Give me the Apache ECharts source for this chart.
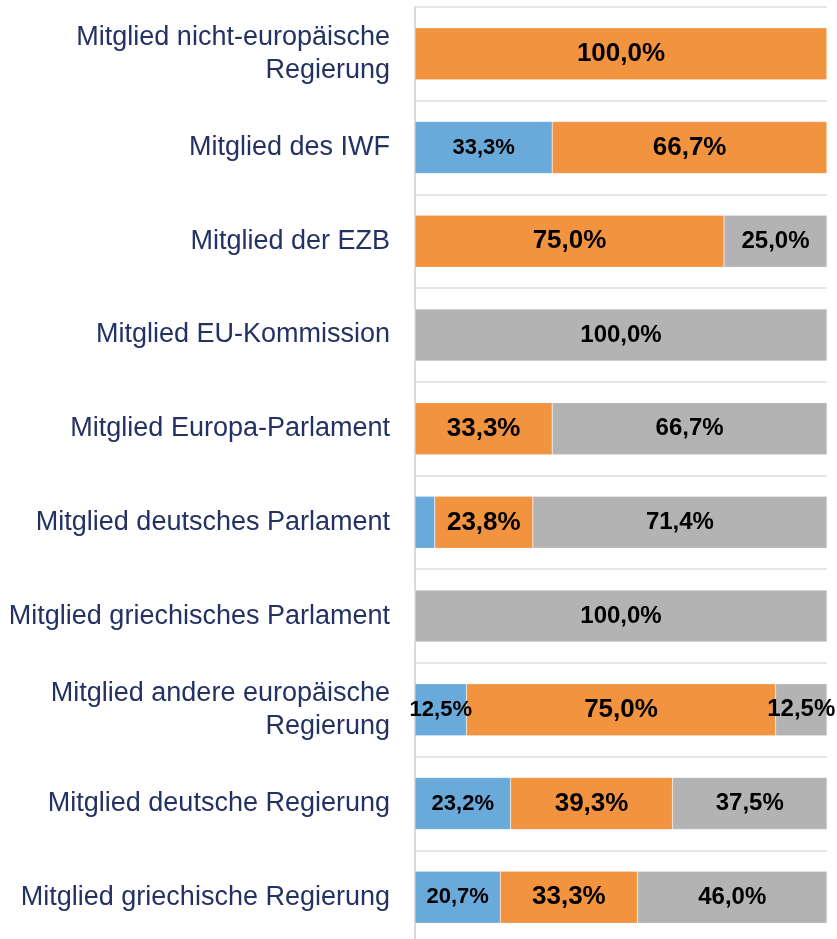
<html>
<head>
<meta charset="utf-8">
<title>Mitglieder</title>
<script src="https://cdn.jsdelivr.net/npm/echarts@6/dist/echarts.min.js"></script>
<style>
  html, body { margin: 0; padding: 0; background: #fff; }
  #main { width: 837px; height: 939px; }
</style>
</head>
<body>
<div id="main"></div>
<script>
// categories, top to bottom
var categories = [
  'Mitglied nicht-europäische\nRegierung',
  'Mitglied des IWF',
  'Mitglied der EZB',
  'Mitglied EU-Kommission',
  'Mitglied Europa-Parlament',
  'Mitglied deutsches Parlament',
  'Mitglied griechisches Parlament',
  'Mitglied andere europäische\nRegierung',
  'Mitglied deutsche Regierung',
  'Mitglied griechische Regierung'
]
var blueValues   = [0, 33.3, 0, 0, 0, 4.8, 0, 12.5, 23.2, 20.7]
var orangeValues = [100, 66.7, 75.0, 0, 33.3, 23.8, 0, 75.0, 39.3, 33.3]
var greyValues   = [0, 0, 25.0, 100, 66.7, 71.4, 100, 12.5, 37.5, 46.0]

var font = '"Liberation Sans", Arial, Helvetica, sans-serif'

function pct(p) {
  if (p.value < 5) return ''
  return p.value.toFixed(1).replace('.', ',') + '%'
}

function makeSeries(name, data, color, size) {
  return {
    name: name,
    type: 'bar',
    stack: 'all',
    barWidth: 52,
    data: data,
    itemStyle: {
      color: color,
      borderColor: 'rgba(255,255,255,0.45)',
      borderWidth: 0.5
    },
    label: {
      show: true,
      position: 'inside',
      formatter: pct,
      color: '#000',
      fontFamily: font,
      fontWeight: 'bold',
      fontSize: size
    }
  }
}

var myChart = echarts.init(document.getElementById('main'))
var option = {
  animation: false,
  grid: {
    left: 415,
    width: 412,
    top: 7,
    height: 937,
    outerBoundsMode: 'none'
  },
  xAxis: {
    type: 'value',
    min: 0,
    max: 100,
    show: false
  },
  yAxis: {
    type: 'category',
    inverse: true,
    data: categories,
    axisLine: { show: true, lineStyle: { color: '#dadada', width: 2 } },
    axisTick: { show: false },
    splitLine: { show: true, lineStyle: { color: '#dedede', width: 1.5 } },
    axisLabel: {
      margin: 25,
      color: '#233163',
      fontFamily: font,
      fontSize: 27,
      lineHeight: 33,
      padding: [10, 0, 0, 0],
      align: 'right'
    }
  },
  series: [
    makeSeries('blau', blueValues, '#6aaadb', 22),
    makeSeries('orange', orangeValues, '#f29340', 26),
    makeSeries('grau', greyValues, '#b3b3b3', 24)
  ]
}
myChart.setOption(option)
</script>
</body>
</html>
